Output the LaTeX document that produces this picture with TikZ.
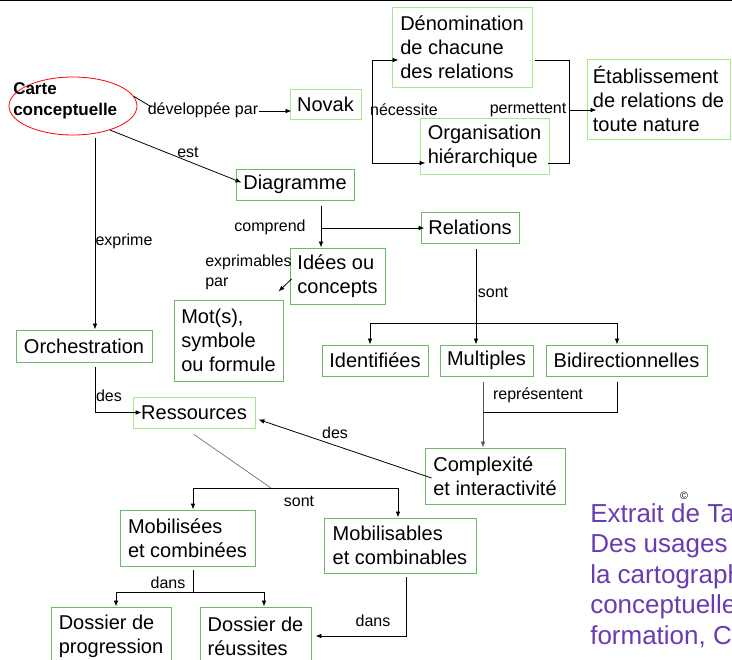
\documentclass[tikz,border=0pt]{standalone}
\usepackage{fontspec}
\setmainfont{Liberation Sans}
\usetikzlibrary{arrows.meta,shapes.geometric}
\definecolor{gr}{RGB}{105,188,100}
\definecolor{lgr}{RGB}{165,235,135}
\definecolor{purp}{RGB}{105,60,180}
\tikzset{
  box/.style={draw=gr, line width=0.7pt, inner xsep=5pt, inner ysep=1pt, align=left, font=\fontsize{15}{18}\selectfont},
  lbox/.style={box, draw=lgr},
  lbl/.style={font=\fontsize{12}{15}\selectfont, inner sep=0pt, align=left},
  conn/.style={line width=0.6pt, -{Latex[length=4.5pt,width=3.5pt]}},
  link/.style={line width=0.6pt},
}
\newcommand\bx[7]{\node[#1, minimum width={#5*0.75pt}, minimum height={#6*0.75pt}] (#2) at ({#3+#5/2},{#4+#6/2}) {#7};}
\begin{document}
\begin{tikzpicture}[x=0.75pt,y=-0.75pt]
\clip (0,0) rectangle (732,660);
\fill[white] (0,0) rectangle (732,660);
\draw[line width=1.5pt] (0,0.5) -- (732,0.5);

% ellipse
\node[draw=red, line width=0.6pt, ellipse, minimum width=128*0.75pt, minimum height=58*0.75pt, inner sep=0pt] (ell) at (73,106) {};
\node[font=\bfseries\fontsize{12.75}{16}\selectfont, align=left, anchor=west, inner sep=0pt] (cc) at (13,100.5) {Carte\\conceptuelle};

% boxes
\bx{lbox}{novak}{290}{89}{71}{30}{Novak}
\bx{box}{diag}{236}{169}{118}{31}{Diagramme}
\bx{lbox}{denom}{392}{7}{140}{80}{Dénomination\\de chacune\\des relations}
\bx{lbox}{org}{420}{118}{129}{56}{Organisation\\hiérarchique}
\bx{lbox, inner xsep=3pt}{etab}{587}{59}{143}{80}{Établissement\\de relations de\\toute nature}
\bx{box}{orch}{16}{330}{136}{32}{Orchestration}
\bx{box}{rel}{421}{212}{98}{31}{Relations}
\bx{box}{ideas}{290}{248}{95}{56}{Idées ou\\concepts}
\bx{box}{mot}{174}{300}{109}{81}{Mot(s),\\symbole\\ou formule}
\bx{box}{ident}{322}{345}{106}{31}{Identifiées}
\bx{box}{mult}{440}{345}{93}{31}{Multiples}
\bx{box}{bid}{546}{345}{161}{31}{Bidirectionnelles}
\bx{lbox}{res}{133}{397}{122}{31}{Ressources}
\bx{box}{comp}{425}{448}{140}{56}{Complexité\\et interactivité}
\bx{box}{mob1}{120}{510}{135}{56}{Mobilisées\\et combinées}
\bx{box}{mob2}{324}{518}{152}{55}{Mobilisables\\et combinables}
\bx{box}{dos1}{51}{607}{120}{58}{Dossier de\\progression}
\bx{box}{dos2}{200}{607}{111}{58}{Dossier de\\réussites}

% labels
\node[lbl] (ldev) at (203,110) {développée par};
\node[lbl] (lest) at (188,152) {est};
\node[lbl] (lexp) at (124,241) {exprime};
\node[lbl] (ldes1) at (109,396) {des};
\node[lbl] (lcomp) at (270,227) {comprend};
\node[lbl, anchor=west] (lexpp) at (205,272.5) {exprimables\\par};
\node[lbl] (lsont1) at (493,292) {sont};
\node[lbl] (lrep) at (538,395) {représentent};
\node[lbl] (ldes2) at (335,433) {des};
\node[lbl] (lsont2) at (299,501) {sont};
\node[lbl] (ldans1) at (168,583) {dans};
\node[lbl] (ldans2) at (373,621) {dans};
\node[lbl] (lnec) at (404,110) {nécessite};
\node[lbl] (lper) at (528,110) {permettent};

% junction coordinates
\coordinate (sj) at (271,488);
\coordinate (dj) at (193,592);
\coordinate (cj) at (321,228);
\coordinate (rj) at (476,323);
\coordinate (nl) at (372,110);
\coordinate (pr) at (569,110);

% connectors
\draw[link] (ell.9) -- ([shift={(4,-3)}]ldev.west);
\draw[conn] ([shift={(1,1)}]ldev.east) -- ([shift={(2,7)}]novak.west);
\draw[conn] (ell.-33) -- ([shift={(6,-2)}]diag.west);
\draw[conn] ([shift={(22,3)}]ell.south) -- ([shift={(11,0)}]orch.north);
\draw[conn] ([shift={(11,5)}]orch.south) |- ([shift={(9,0)}]res.west);
\draw[link, gray] ([shift={(0,6)}]res.south) -- (sj);
\draw[conn] (sj) -| ([shift={(5.5,0)}]mob1.north);
\draw[conn] (sj) -| ([shift={(-2,0)}]mob2.north);
\draw[link] ([shift={(5.5,4)}]mob1.south) -- (dj);
\draw[conn] (dj) -| ([shift={(5,0)}]dos1.north);
\draw[conn] (dj) -| ([shift={(8.5,0)}]dos2.north);
\draw[conn] ([shift={(6,4)}]mob2.south) |- ([shift={(4,0)}]dos2.east);
\draw[link] ([shift={(26,6)}]diag.south) -- (cj);
\draw[conn] (cj) -- (cj |- ideas.north);
\draw[conn] (cj) -- ([shift={(4,0.5)}]rel.west);
\draw[conn] ([shift={(2,3)}]ideas.west) -- ([shift={(-5,-8)}]mot.north east);
\draw[conn] ([shift={(6,6)}]rel.south) -- ([shift={(-10.5,0)}]mult.north);
\draw[conn] (rj) -| ([shift={(-5,0)}]ident.north);
\draw[conn] (rj) -| ([shift={(-9.5,0)}]bid.north);
\draw[conn, draw=gray!70!black] ([shift={(-3.5,6)}]mult.south) -- ([shift={(-12,0)}]comp.north);
\draw[link] ([shift={(-9.5,6)}]bid.south) |- ([shift={(-3.5,36)}]mult.south);
\draw[conn] ([shift={(7,2)}]comp.west) -- ([shift={(3,7)}]res.east);
\draw[conn] (nl) |- ([shift={(7,13)}]denom.west);
\draw[conn] (nl) |- ([shift={(6,17)}]org.west);
\draw[link] ([shift={(3,13)}]denom.east) -| ([shift={(20,17)}]org.east) -- ([shift={(-1,17)}]org.east);
\draw[conn] (pr) -- ([shift={(10,11)}]etab.west);

% citation text
\node[anchor=north west, font=\fontsize{19.5}{22.9}\selectfont, text=purp, align=left, inner sep=0pt] (cite) at (590,503) {Extrait de Ta\\Des usages\\la cartograph\\conceptuelle\\formation, C};
\node[font=\fontsize{8}{8}\selectfont, inner sep=0pt] (copy) at (684,496) {©};
\end{tikzpicture}
\end{document}
